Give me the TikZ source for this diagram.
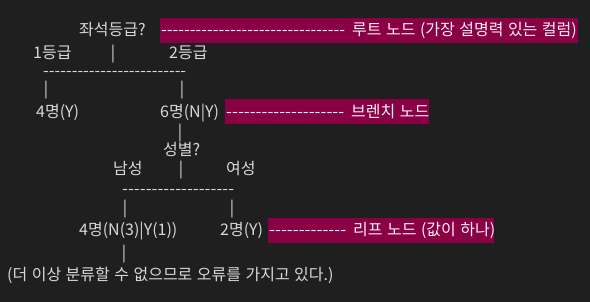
\documentclass[tikz,border=0pt]{standalone}
\usepackage{fontspec}
\usepackage{graphicx}
\setmainfont{Noto Sans CJK KR}[WordSpace=1.25]
\definecolor{bg}{HTML}{1F1F1F}
\definecolor{hl}{HTML}{8A0044}
\definecolor{fg}{HTML}{D8D8D8}
\newcommand\hyrun[1]{\foreach\i in {1,...,#1}{-\kern0pt}}
\newcommand\dashrun[2]{\resizebox{#1pt}{\height}{\hyrun{#2}}}
\newcommand\myfont{\fontsize{16}{18}\selectfont}
\begin{document}
\begin{tikzpicture}[x=1pt,y=-1pt,
  txt/.style={anchor=base west,inner sep=0pt,text=fg,font=\myfont},
  bar/.style={txt,anchor=base},
  hltxt/.style={txt,text=white!94!hl}]
\fill[bg] (0,0) rectangle (590,302);
\useasboundingbox (0,0) rectangle (590,302);
% highlight boxes
\fill[hl] (160,18) rectangle (578,43);
\fill[hl] (225,99) rectangle (429,124);
\fill[hl] (268,218) rectangle (494,243);
% row 1
\node[txt] (q1) at (79,36) {좌석등급?};
\node[hltxt] (d1) at (161,36) {\dashrun{184}{32}};
\node[hltxt] (c1) at (352,36) {루트 노드 (가장 설명력 있는 컬럼)};
% row 2
\node[txt] (g1) at (33,59) {1등급};
\node[bar] (p0) at (113,59) {|};
\node[txt] (g2) at (169,59) {2등급};
\node[txt] (l1) at (43,76.5) {\dashrun{143}{25}};
\node[bar] (p1) at (46,94.5) {|};
\node[bar] (p2) at (182,94.5) {|};
% row 4
\node[txt] (n4) at (36,118) {4명(Y)};
\node[txt] (n6) at (160,118) {6명(N|Y)};
\node[hltxt] (d2) at (226,118) {\dashrun{118}{20}};
\node[hltxt] (c2) at (351,118) {브렌치 노드};
\node[bar] (p3) at (180,137.5) {|};
\node[txt] (q2) at (163,156) {성별?};
\node[txt] (m) at (113,175) {남성};
\node[bar] (p4) at (181,175) {|};
\node[txt] (f) at (226,175) {여성};
\node[txt] (l2) at (122,194.5) {\dashrun{112}{19}};
\node[bar] (p5) at (125,213.5) {|};
\node[bar] (p6) at (232,213.5) {|};
% row 9
\node[txt] (n4b) at (79,236) {4명(N(3)|Y(1))};
\node[txt] (n2) at (220,236) {2명(Y)};
\node[hltxt] (d3) at (269,236) {\dashrun{77}{13}};
\node[hltxt] (c3) at (353,236) {리프 노드 (값이 하나)};
\node[bar] (p7) at (124,258.5) {|};
\node[txt] (s) at (7,280) {(더 이상 분류할 수 없으므로 오류를 가지고 있다.)};
\end{tikzpicture}
\end{document}
